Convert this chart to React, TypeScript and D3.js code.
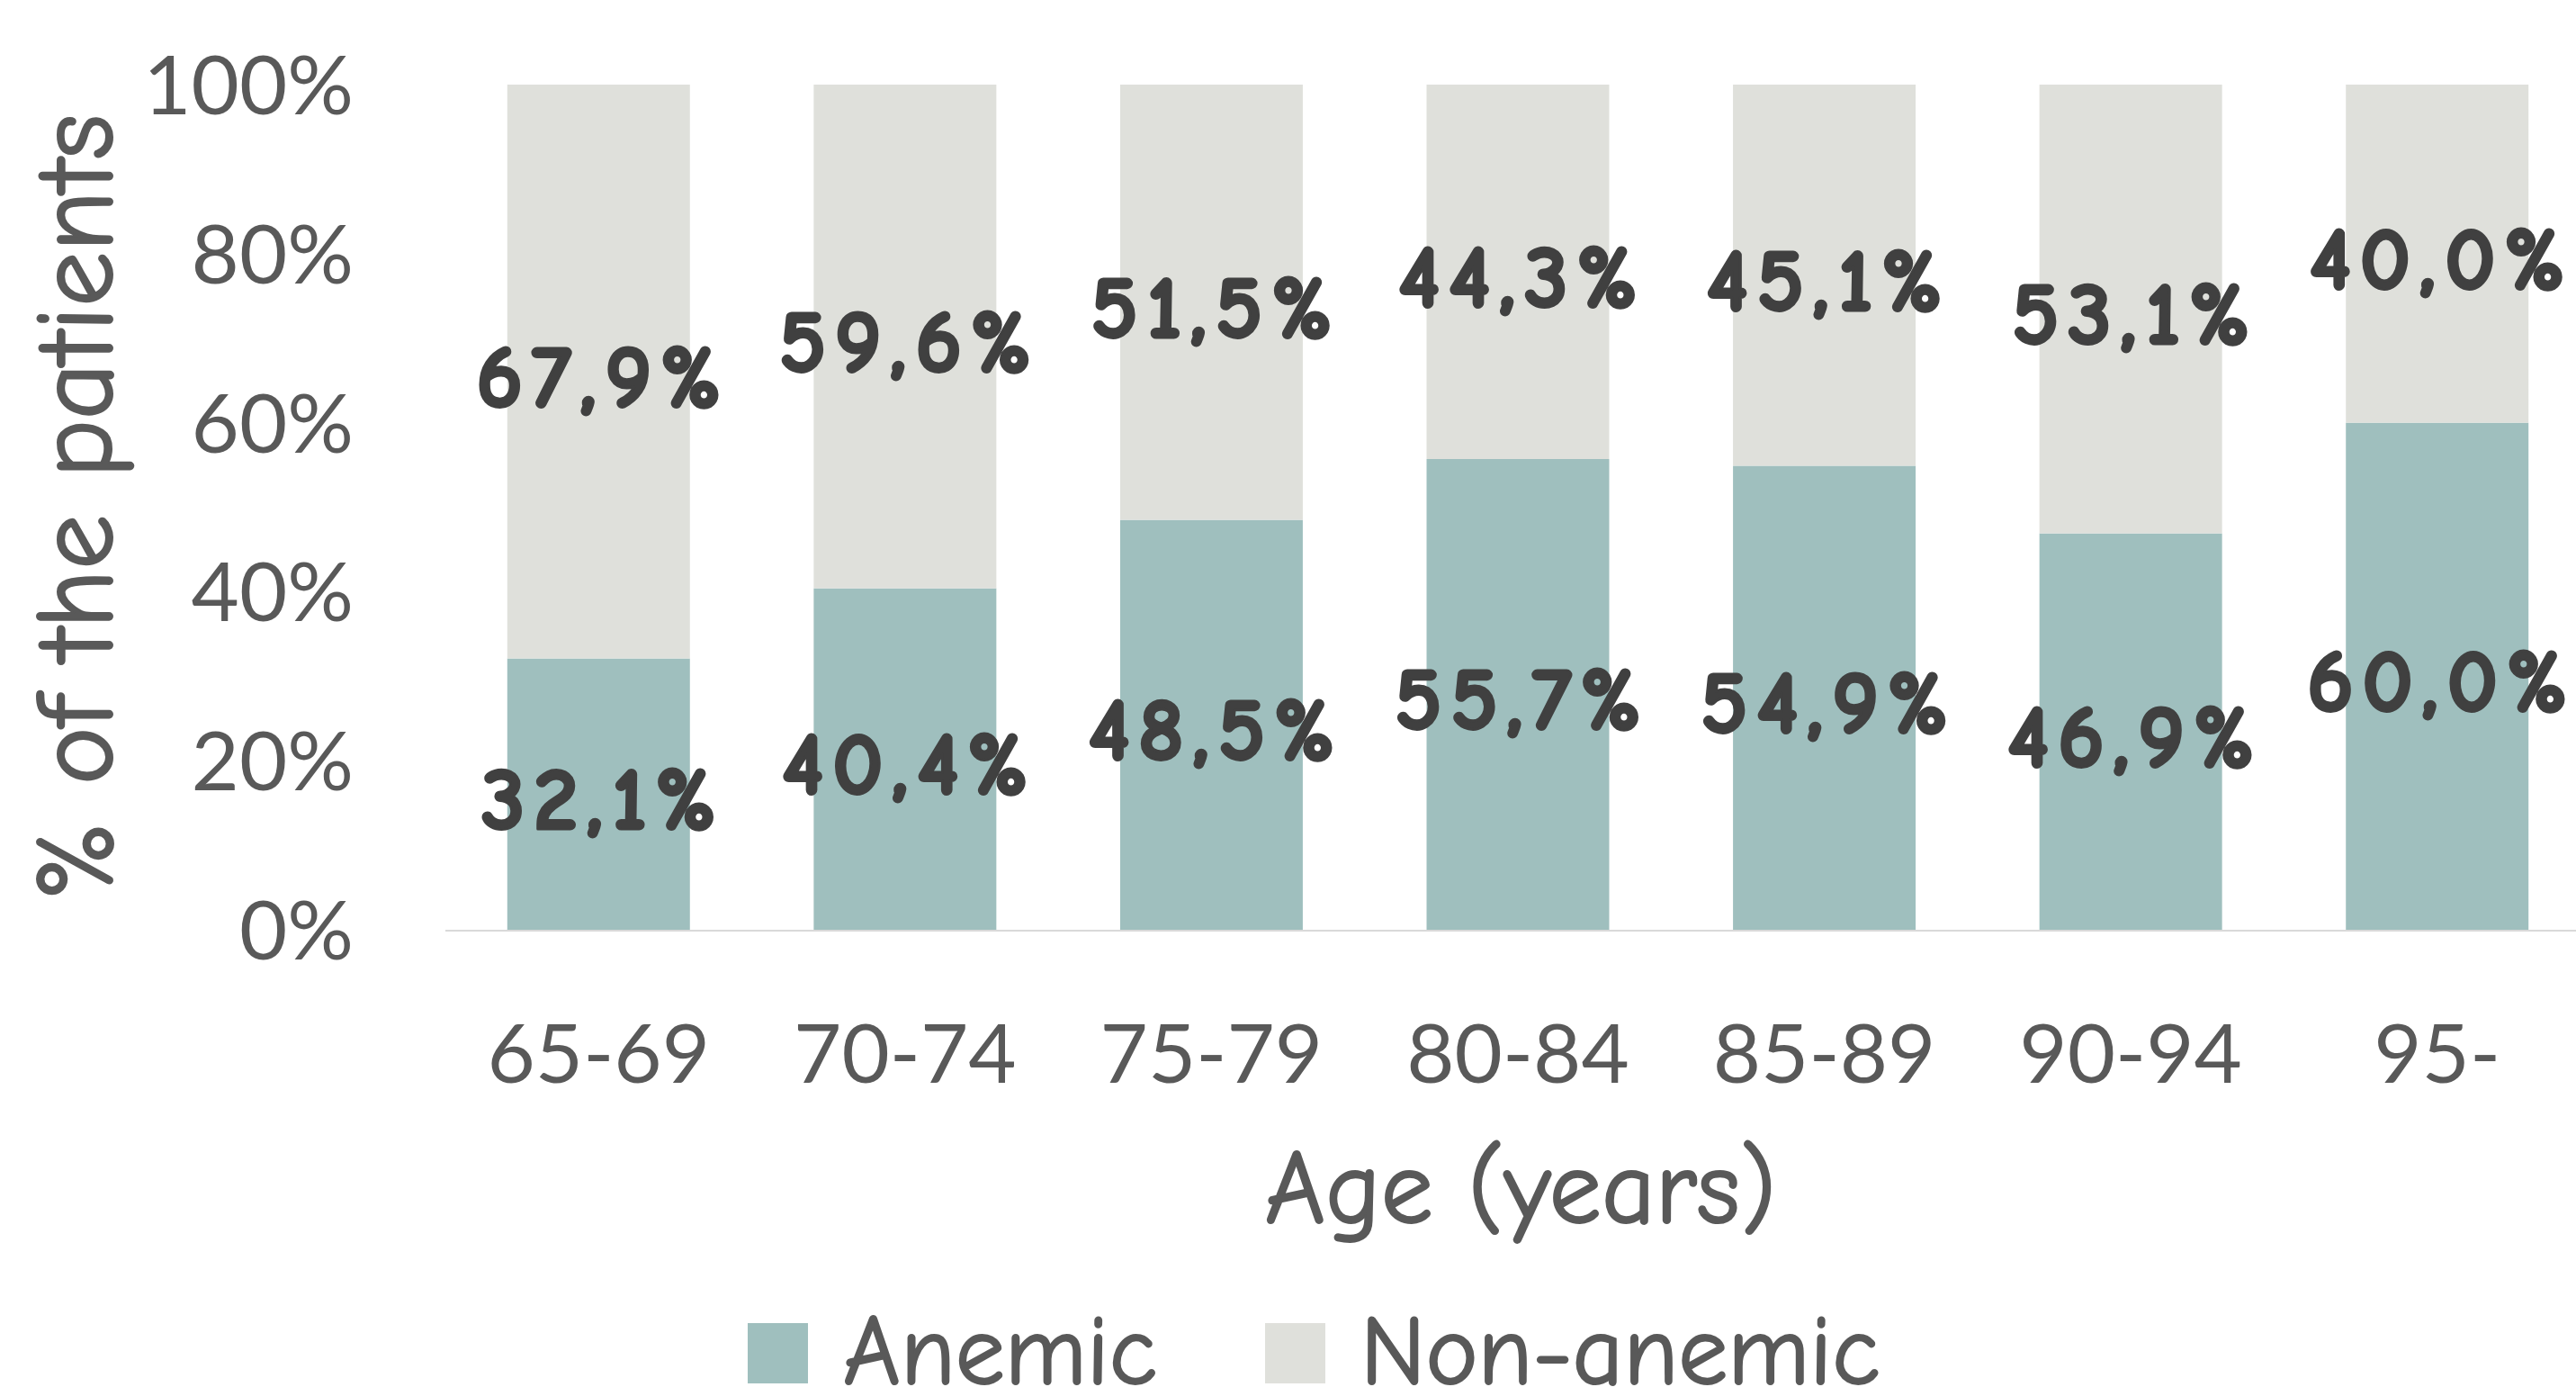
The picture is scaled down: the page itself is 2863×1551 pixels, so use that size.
import React, { useEffect } from 'react';
import * as d3 from 'd3';

const categories = ['65-69', '70-74', '75-79', '80-84', '85-89', '90-94', '95-'];
const anemic = [32.1, 40.4, 48.5, 55.7, 54.9, 46.9, 60.0];
const nonAnemic = [67.9, 59.6, 51.5, 44.3, 45.1, 53.1, 40.0];
const yTicks = [0, 20, 40, 60, 80, 100];
const seriesNames = ['Anemic', 'Non-anemic'];
const colors = ['#9fbfbe', '#dfe0db'];

const W = 2863;
const H = 1551;
const plot = { left: 495, right: 2879, top: 94, bottom: 1033 };

const comic = "'Comic Sans MS', 'Comic Neue', 'DejaVu Sans', sans-serif";
const tickFont = "Lato, Carlito, Calibri, sans-serif";

const fmt = (v: number) => v.toFixed(1).replace('.', ',') + '%';

export default function App() {
  useEffect(() => {
    document.body.style.margin = '0';
  }, []);

  const x = d3.scaleBand<string>()
    .domain(categories)
    .range([plot.left, plot.right])
    .paddingInner(0.404)
    .paddingOuter(0.202);
  const y = d3.scaleLinear().domain([0, 100]).range([plot.bottom, plot.top]);

  const rows = categories.map((c, i) => ({ cat: c, Anemic: anemic[i], 'Non-anemic': nonAnemic[i] }));
  const stacked = d3.stack<any>().keys(seriesNames)(rows);

  const labelSpacing = 9;

  return (
    <svg width={W} height={H} style={{ display: 'block', background: '#fff' }}>
      {stacked.map((layer, si) => (
        <g key={layer.key}>
          {layer.map((d, i) => (
            <rect
              key={categories[i]}
              x={x(categories[i])}
              y={y(d[1])}
              width={x.bandwidth()}
              height={y(d[0]) - y(d[1])}
              fill={colors[si]}
            />
          ))}
        </g>
      ))}

      <line x1={plot.left} x2={W} y1={plot.bottom + 1} y2={plot.bottom + 1} stroke="#d9d9d9" strokeWidth={2} />

      {yTicks.map(t => (
        <text key={t} x={393} y={y(t) + 33} textAnchor="end" fontFamily={tickFont} fontSize={92} fill="#595959">
          {t}%
        </text>
      ))}

      {categories.map(c => (
        <text key={c} x={(x(c) as number) + x.bandwidth() / 2} y={1203} textAnchor="middle" fontFamily={tickFont} fontSize={92} fill="#595959">
          {c}
        </text>
      ))}

      {stacked.map(layer => layer.map((d, i) => (
        <text
          key={layer.key + i}
          x={(x(categories[i]) as number) + x.bandwidth() / 2 + labelSpacing / 2}
          y={y((d[0] + d[1]) / 2) + 39}
          textAnchor="middle"
          fontFamily={comic}
          fontWeight="bold"
          fontSize={100}
          letterSpacing={labelSpacing}
          fill="#404040"
          stroke="#404040"
          strokeWidth={3}
          strokeLinejoin="round"
        >
          {fmt(d[1] - d[0])}
        </text>
      )))}

      <text
        transform={`translate(124, ${(plot.top + plot.bottom) / 2}) rotate(-90)`}
        textAnchor="middle"
        fontFamily={comic}
        fontSize={122}
        fill="#595959"
        stroke="#595959"
        strokeWidth={2}
      >
        % of the patients
      </text>

      <text x={1690} y={1358} textAnchor="middle" fontFamily={comic} fontSize={116} fill="#595959" stroke="#595959" strokeWidth={2}>
        Age (years)
      </text>

      {seriesNames.map((s, i) => {
        const lx = [831, 1406][i];
        return (
          <g key={s}>
            <rect x={lx} y={1470} width={67} height={67} fill={colors[i]} />
            <text x={lx + 106} y={1537} fontFamily={comic} fontSize={110} fill="#595959" stroke="#595959" strokeWidth={2}>
              {s}
            </text>
          </g>
        );
      })}
    </svg>
  );
}
